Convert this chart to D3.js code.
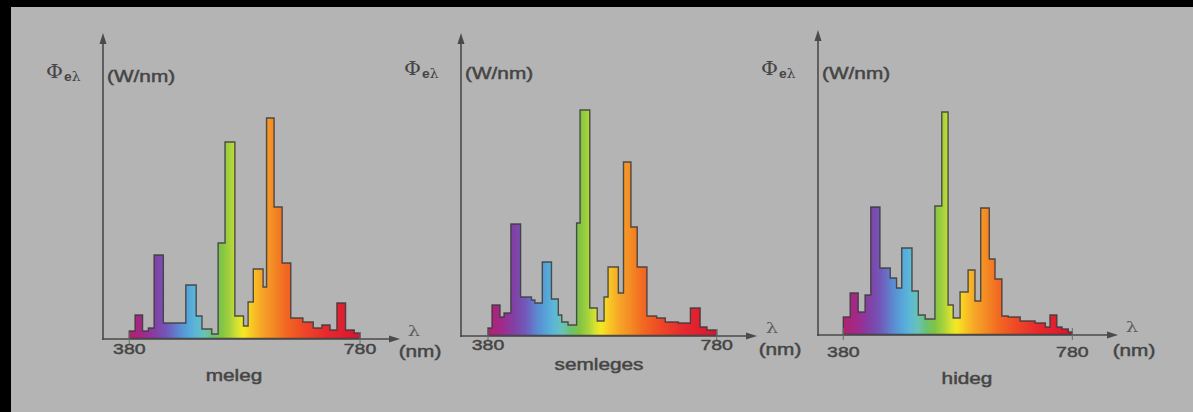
<!DOCTYPE html>
<html>
<head>
<meta charset="utf-8">
<script src="https://cdn.jsdelivr.net/npm/d3@7"></script>
<style>
  html, body { margin: 0; padding: 0; background: #000; }
  svg { display: block; }
</style>
</head>
<body>
<svg id="chart" width="1193" height="412"></svg>
<script>
// Spectral power distributions of three fluorescent lamp types (relative units)
const categories = ["meleg", "semleges", "hideg"];
const tickLabels = ["380", "780"];
const wavelengthDomain = [380, 780];
const yLabel = "(W/nm)";
const xLabel = "(nm)";

const melegEdges = [380, 390, 403, 413, 423, 439, 478, 496, 506, 523, 534, 546, 563, 578, 586, 595, 612, 618, 631, 645, 660, 681, 699, 714, 728, 740, 755, 770, 780];
const melegValues = [8, 24, 8, 11, 84, 16, 54, 23, 10, 5, 96, 197, 23, 13, 37, 70, 52, 221, 132, 76, 21, 17, 11, 14, 9, 36, 9, 6];

const semlegesEdges = [380, 387, 401, 408, 420, 437, 456, 462, 475, 491, 503, 509, 520, 535, 541, 558, 571, 583, 590, 608, 617, 630, 641, 658, 675, 690, 713, 734, 751, 763, 780];
const semlegesValues = [8, 31, 19, 23, 112, 39, 36, 33, 74, 37, 21, 14, 11, 113, 226, 28, 15, 39, 69, 43, 174, 109, 69, 20, 18, 14, 13, 28, 9, 6];

const hidegEdges = [380, 392, 406, 418, 428, 444, 462, 473, 482, 500, 511, 523, 540, 552, 563, 572, 584, 598, 610, 620, 635, 645, 657, 668, 689, 715, 733, 741, 753, 762, 773, 780];
const hidegValues = [18, 42, 23, 40, 128, 67, 57, 47, 87, 44, 20, 16, 129, 223, 30, 17, 43, 65, 34, 127, 76, 56, 19, 18, 14, 12, 8, 20, 8, 6, 3];

const seriesEdges = [melegEdges, semlegesEdges, hidegEdges];
const seriesValues = [melegValues, semlegesValues, hidegValues];

// Visible-spectrum colour ramp used to fill the distributions
const spectrumStops = [
  [380, "#b0226e"], [405, "#a02a8c"], [425, "#8240a4"], [445, "#7258ba"],
  [465, "#5e86d0"], [480, "#56a2d8"], [495, "#5cb6d8"], [510, "#68c2b8"],
  [525, "#6cc070"], [540, "#80c444"], [555, "#a8d23c"], [568, "#d8e230"],
  [578, "#f4e824"], [592, "#f8c824"], [610, "#f6a428"], [630, "#f48a24"],
  [650, "#f26a22"], [680, "#ee4a26"], [720, "#e62a2e"], [780, "#d81432"]
];

// Panel placement
const panels = [
  { axisX: 103, axisY: 339, x0: 129.3, x1: 360,    top: 33, right: 400,  labelY: 82, tickY: 354, nameY: 381, nameX: 234, lamX: 414,  nmX: 420,  nmY: 357 },
  { axisX: 461, axisY: 336, x0: 488,   x1: 716.7,  top: 33, right: 757,  labelY: 79, tickY: 350, nameY: 370, nameX: 599, lamX: 772,  nmX: 780,  nmY: 355 },
  { axisX: 818, axisY: 335, x0: 843.3, x1: 1072.3, top: 30, right: 1118, labelY: 79, tickY: 357, nameY: 384, nameX: 967, lamX: 1132, nmX: 1134, nmY: 356 }
];

const W = 1193, H = 412;
const textColor = "#454545";
const axisColor = "#4a4a4a";
const sx = 1.3; // horizontal stretch of all lettering

const svg = d3.select("#chart");
const defs = svg.append("defs");

// page background with dark frame on top and left
svg.append("rect").attr("width", W).attr("height", H).attr("fill", "#000");
svg.append("rect").attr("x", 11).attr("y", 7).attr("width", W - 11).attr("height", H - 7).attr("fill", "#b4b4b4");

function addText(g, str, x, y, opts = {}) {
  const fill = opts.fill || textColor;
  return g.append("text")
    .attr("transform", `translate(${x},${y}) scale(${opts.sx || sx},1)`)
    .attr("text-anchor", opts.anchor || "middle")
    .attr("font-family", opts.family || "'Liberation Sans', Arial, sans-serif")
    .attr("font-size", opts.size || 15)
    .attr("font-weight", "normal")
    .attr("fill", fill)
    .attr("stroke", fill)
    .attr("stroke-width", opts.stroke == null ? 0.45 : opts.stroke)
    .text(str);
}

panels.forEach((p, i) => {
  const edges = seriesEdges[i];
  const values = seriesValues[i];
  const g = svg.append("g");

  const x = d3.scaleLinear().domain(wavelengthDomain).range([p.x0, p.x1]);
  const y = d3.scaleLinear().domain([0, 250]).range([p.axisY, p.axisY - 250]);

  // horizontal spectrum gradient
  const gid = "spec" + i;
  const grad = defs.append("linearGradient")
    .attr("id", gid)
    .attr("gradientUnits", "userSpaceOnUse")
    .attr("x1", x(380)).attr("x2", x(780)).attr("y1", 0).attr("y2", 0);
  grad.selectAll("stop").data(spectrumStops).join("stop")
    .attr("offset", d => (d[0] - 380) / 400)
    .attr("stop-color", d => d[1]);

  // step distribution
  const pts = edges.map((e, k) => ({ nm: e, v: values[Math.min(k, values.length - 1)] }));
  const area = d3.area()
    .curve(d3.curveStepAfter)
    .x(d => x(d.nm))
    .y0(p.axisY - 0.5)
    .y1(d => y(d.v));
  g.append("path")
    .attr("d", area(pts))
    .attr("fill", `url(#${gid})`)
    .attr("stroke", "#383838")
    .attr("stroke-opacity", 0.85)
    .attr("stroke-width", 1.4)
    .attr("stroke-linejoin", "miter");

  // axes
  g.append("line")
    .attr("x1", p.axisX).attr("y1", p.axisY + 1)
    .attr("x2", p.axisX).attr("y2", p.top + 8)
    .attr("stroke", axisColor).attr("stroke-width", 1.6);
  g.append("path")
    .attr("d", `M${p.axisX},${p.top} L${p.axisX - 3.5},${p.top + 11} L${p.axisX + 3.5},${p.top + 11} Z`)
    .attr("fill", axisColor);
  g.append("line")
    .attr("x1", p.axisX - 1).attr("y1", p.axisY)
    .attr("x2", p.right - 8).attr("y2", p.axisY)
    .attr("stroke", axisColor).attr("stroke-width", 1.6);
  g.append("path")
    .attr("d", `M${p.right},${p.axisY} L${p.right - 11},${p.axisY - 3.5} L${p.right - 11},${p.axisY + 3.5} Z`)
    .attr("fill", axisColor);

  // tick marks and labels at the spectrum limits
  wavelengthDomain.forEach((w, k) => {
    g.append("line")
      .attr("x1", x(w)).attr("x2", x(w))
      .attr("y1", p.axisY - 7).attr("y2", p.axisY + 5)
      .attr("stroke", "#6a6a6a").attr("stroke-width", 1);
    addText(g, tickLabels[k], x(w), p.tickY, { size: 15 });
  });

  // y-axis title: Φeλ (W/nm)
  const phi = g.append("text")
    .attr("transform", `translate(${p.axisX - 57},${p.labelY - 4}) scale(1.15,1)`)
    .attr("font-family", "'DejaVu Serif', 'Liberation Serif', serif")
    .attr("fill", textColor);
  phi.append("tspan").attr("font-size", 18).text("Φ");
  phi.append("tspan").attr("font-size", 12).attr("font-weight", "bold")
    .attr("font-family", "'Liberation Sans', Arial, sans-serif").attr("dy", 3).attr("dx", 1).text("e");
  phi.append("tspan").attr("font-size", 12).text("λ");
  addText(g, yLabel, p.axisX + 4, p.labelY, { anchor: "start", size: 16 });

  // x-axis title: λ (nm)
  addText(g, "λ", p.lamX, p.axisY - 3, { size: 15, family: "'DejaVu Serif', serif", fill: "#5e5e5e", stroke: 0 });
  addText(g, xLabel, p.nmX, p.nmY, { size: 16 });

  // lamp type
  addText(g, categories[i], p.nameX, p.nameY, { size: 16 });
});
</script>
</body>
</html>
